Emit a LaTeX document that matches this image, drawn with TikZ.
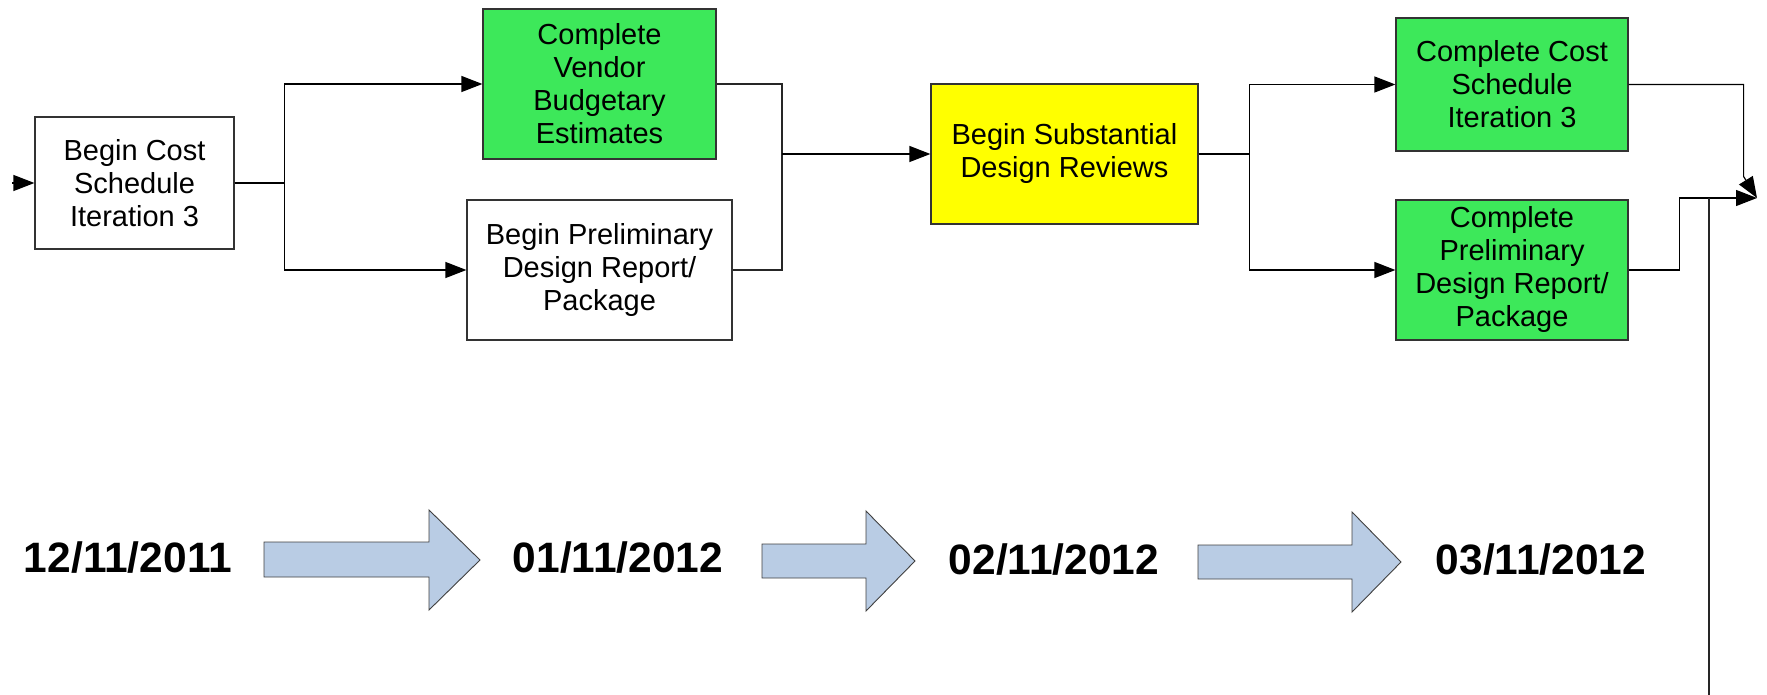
\documentclass[tikz,border=0pt]{standalone}
\usepackage{fontspec}
\setmainfont{Liberation Sans}
\usetikzlibrary{arrows.meta}
\definecolor{boxgreen}{RGB}{61,232,90}
\definecolor{boxyellow}{RGB}{255,255,0}
\definecolor{arrowblue}{RGB}{185,204,228}
\tikzset{
  task/.style={draw=black!80,line width=1.2pt,inner sep=0pt,align=center,
    font=\fontsize{29}{33}\selectfont},
  done/.style={task,fill=boxgreen},
  review/.style={task,fill=boxyellow},
  flow/.style={line width=1.2pt,black,-{Triangle[length=21pt,width=16pt]}},
  link/.style={line width=1.2pt,black!85},
  datetext/.style={inner sep=0pt,font=\fontsize{42.5}{46}\selectfont\bfseries},
  bigarrow/.style={draw=black!75,line width=0.9pt,fill=arrowblue,line join=miter}
}
\begin{document}
\begin{tikzpicture}[x=1pt,y=-1pt]
   \useasboundingbox (0,0) rectangle (1767,695);
   \node[task,minimum width=199pt,minimum height=132pt] (cs) at (134.5,183) {Begin Cost\\Schedule\\Iteration 3};
   \node[done,minimum width=233pt,minimum height=150pt] (ve) at (599.5,84) {Complete\\Vendor\\Budgetary\\Estimates};
   \node[task,minimum width=265pt,minimum height=140pt] (pd) at (599.5,270) {Begin Preliminary\\Design Report/\\Package};
   \node[review,minimum width=267pt,minimum height=140pt] (sd) at (1064.5,154) {Begin Substantial\\Design Reviews};
   \node[done,minimum width=232pt,minimum height=133pt] (ce) at (1512,84.5) {Complete Cost\\Schedule\\Iteration 3};
   \node[done,minimum width=232pt,minimum height=140pt] (cp) at (1512,270) {Complete\\Preliminary\\Design Report/\\Package};
  %
   \coordinate (start) at (12,183);
   \coordinate (m1) at (782,154);
   \coordinate (join) at (1757,198);
   \coordinate (tail) at (1709,695);
   \draw[flow] (start) -- (cs.west);
   \draw[flow] (cs.east) -- ++(50,0) |- (ve.west);
   \draw[flow] (cs.east) -- ++(50,0) |- (pd.west);
   \draw[link] (ve.east) -| (m1);
   \draw[link] (pd.east) -| (m1);
   \draw[flow] (m1) -- (sd.west);
   \draw[flow] (sd.east) -- ++(51,0) |- (ce.west);
   \draw[flow] (sd.east) -- ++(51,0) |- (cp.west);
   \draw[flow] (ce.east) -- ++(115,0) -- ++(0,92) -- (join);
   \draw[flow] (cp.east) -- ++(51,0) |- (join);
   \draw[link] (tail) -- (tail |- join);
  %
   \node[datetext] (d1) at (128,558) {12/11/2011};
   \node[datetext] (d2) at (618,558) {01/11/2012};
   \node[datetext] (d3) at (1054,560) {02/11/2012};
   \node[datetext] (d4) at (1541,560) {03/11/2012};
   \draw[bigarrow] (264,542) -- (429,542) -- (429,510) -- (480,560) -- (429,610) -- (429,577) -- (264,577) -- cycle;
   \draw[bigarrow] (762,544) -- (866,544) -- (866,511) -- (915,561) -- (866,611) -- (866,578) -- (762,578) -- cycle;
   \draw[bigarrow] (1198,545) -- (1352,545) -- (1352,512) -- (1401,562) -- (1352,612) -- (1352,579) -- (1198,579) -- cycle;
\end{tikzpicture}
\end{document}
